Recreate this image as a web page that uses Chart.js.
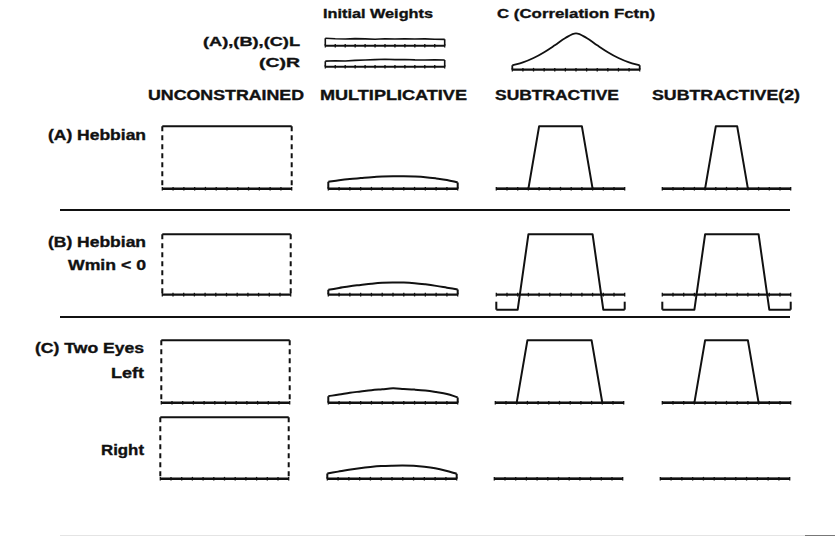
<!DOCTYPE html>
<html>
<head>
<meta charset="utf-8">
<script src="https://cdn.jsdelivr.net/npm/chart.js@4.4.0/dist/chart.umd.min.js"></script>
<style>
    body { margin: 0; background: #fff; }
    #fig { position: relative; width: 835px; height: 538px; overflow: hidden; background: #fff; }
    #fig canvas { position: absolute; }
    .lbl {
        position: absolute; white-space: nowrap; color: #111;
        font-family: "Liberation Sans", Arial, sans-serif; font-weight: bold;
        -webkit-text-stroke: 0.35px #111;
        transform-origin: 0 50%;
    }
    .rule { position: absolute; background: #111; }
</style>
</head>
<body>
<div id="fig"></div>
<script>
// synapse index along each weight profile
const synapse = [0, 1, 2, 3, 4, 5, 6, 7, 8, 9, 10, 11, 12];

// top strip: initial weights and correlation function
const initLeft  = [1.0, 0.93, 0.9, 0.95, 0.92, 0.88, 0.93, 0.9, 0.94, 0.9, 0.92, 0.88, 0.86];
const initRight = [0.75, 0.8, 0.78, 0.85, 0.9, 0.95, 1.0, 0.96, 0.97, 0.92, 0.9, 0.93, 0.9];
const corrFctn  = [0.12, 0.2, 0.32, 0.48, 0.67, 0.87, 1.0, 0.87, 0.67, 0.48, 0.32, 0.2, 0.12];

// (A) Hebbian
const aUncon = [1, 1, 1, 1, 1, 1, 1, 1, 1, 1, 1, 1, 1];
const aMult  = [0.11, 0.135, 0.155, 0.17, 0.185, 0.195, 0.2, 0.2, 0.195, 0.185, 0.165, 0.14, 0.1];
const aSub   = [0, 0, 0, 0, 1, 1, 1, 1, 1, 0, 0, 0, 0];
const aSub2  = [0, 0, 0, 0, 0, 1, 1, 1, 0, 0, 0, 0, 0];

// (B) Hebbian, Wmin < 0
const bUncon = [1, 1, 1, 1, 1, 1, 1, 1, 1, 1, 1, 1, 1];
const bMult  = [0.08, 0.11, 0.14, 0.16, 0.18, 0.195, 0.2, 0.2, 0.19, 0.17, 0.145, 0.115, 0.085];
const bSub   = [-0.25, -0.25, -0.25, 1, 1, 1, 1, 1, 1, 1, -0.25, -0.25, -0.25];
const bSub2  = [-0.25, -0.25, -0.25, -0.25, 1, 1, 1, 1, 1, 1, -0.25, -0.25, -0.25];

// (C) Two eyes, left
const clUncon = [1, 1, 1, 1, 1, 1, 1, 1, 1, 1, 1, 1, 1];
const clMult  = [0.105, 0.13, 0.16, 0.18, 0.2, 0.215, 0.23, 0.22, 0.21, 0.195, 0.17, 0.14, 0.085];
const clSub   = [0, 0, 0, 1, 1, 1, 1, 1, 1, 1, 0, 0, 0];
const clSub2  = [0, 0, 0, 0, 1, 1, 1, 1, 1, 0, 0, 0, 0];

// (C) Two eyes, right
const crUncon = [1, 1, 1, 1, 1, 1, 1, 1, 1, 1, 1, 1, 1];
const crMult  = [0.085, 0.115, 0.145, 0.17, 0.19, 0.205, 0.212, 0.215, 0.21, 0.195, 0.17, 0.13, 0.08];
const crSub   = [0, 0, 0, 0, 0, 0, 0, 0, 0, 0, 0, 0, 0];
const crSub2  = [0, 0, 0, 0, 0, 0, 0, 0, 0, 0, 0, 0, 0];

const ink = '#111';
const fig = document.getElementById('fig');

// pixel rows: where scale max / scale min land
const rows = {
    iL: {top: 38.3, bot: 46.7, min: 0, max: 1},
    iR: {top: 58.5, bot: 66.7, min: 0, max: 1},
    cf: {top: 33.3, bot: 70, min: 0, max: 1},
    A:  {top: 126, bot: 188.5, min: 0, max: 1},
    B:  {top: 233.5, bot: 309, min: -0.25, max: 1},
    CL: {top: 339.8, bot: 402.5, min: 0, max: 1},
    CR: {top: 417.3, bot: 479.5, min: 0, max: 1},
};

const dashed = [5, 4];
const stub = [8, 8];

const panels = [
    {row: 'iL', x0: 325, x1: 445, values: initLeft, lw: 1.6},
    {row: 'iR', x0: 325, x1: 445, values: initRight, lw: 1.6},
    {row: 'cf', x0: 512, x1: 640, values: corrFctn, lw: 1.8, smooth: true},

    {row: 'A', x0: 162, x1: 292, values: aUncon, dash: dashed},
    {row: 'A', x0: 328, x1: 458, values: aMult, smooth: true},
    {row: 'A', x0: 495.5, x1: 624, values: aSub},
    {row: 'A', x0: 661.5, x1: 790, values: aSub2},

    {row: 'B', x0: 162, x1: 291, values: bUncon, dash: dashed},
    {row: 'B', x0: 328, x1: 458, values: bMult, smooth: true},
    {row: 'B', x0: 495.5, x1: 624, values: bSub, dash: stub},
    {row: 'B', x0: 661.5, x1: 790, values: bSub2, dash: stub},

    {row: 'CL', x0: 161, x1: 290, values: clUncon, dash: dashed},
    {row: 'CL', x0: 327.5, x1: 457, values: clMult, smooth: true},
    {row: 'CL', x0: 494.5, x1: 623, values: clSub},
    {row: 'CL', x0: 661.5, x1: 790, values: clSub2},

    {row: 'CR', x0: 160, x1: 289, values: crUncon, dash: dashed},
    {row: 'CR', x0: 326.5, x1: 456.5, values: crMult, smooth: true},
    {row: 'CR', x0: 493.5, x1: 622.5, values: crSub},
    {row: 'CR', x0: 659.5, x1: 789, values: crSub2},
];

function makePanel(p) {
    const r = rows[p.row];
    const pad = 5;
    const lw = p.lw || 2;
    const c = document.createElement('canvas');
    c.width = Math.round(p.x1 - p.x0) + 2 * pad;
    c.height = Math.round(r.bot - r.top) + 2 * pad;
    c.style.left = Math.round(p.x0 - pad) + 'px';
    c.style.top = Math.round(r.top - pad) + 'px';
    fig.appendChild(c);

    const last = synapse.length - 1;
    const v = p.values;
    const edge = (i) => ({
        data: [{x: synapse[i], y: v[i]}, {x: synapse[i], y: 0}],
        borderColor: ink, borderWidth: lw, borderDash: p.dash || [],
        pointRadius: 0, clip: false,
    });

    new Chart(c.getContext('2d'), {
        type: 'line',
        data: {
            datasets: [
                //baseline with a small tick at every synapse
                {
                    data: synapse.map(s => ({x: s, y: 0})),
                    borderColor: ink, borderWidth: lw + 0.4,
                    pointStyle: 'line', rotation: 90, pointRadius: 1.8,
                    pointBorderWidth: 1.3, pointBorderColor: ink, clip: false,
                },
                {
                    data: synapse.map((s, i) => ({x: s, y: v[i]})),
                    borderColor: ink, borderWidth: lw, pointRadius: 0,
                    tension: p.smooth ? 0.35 : 0, borderJoinStyle: 'round',
                    clip: false,
                },
                edge(0),
                edge(last),
            ],
        },
        options: {
            responsive: false,
            animation: false,
            events: [],
            layout: {padding: pad},
            plugins: {legend: {display: false}, tooltip: {enabled: false}},
            scales: {
                x: {type: 'linear', min: 0, max: 12, display: false},
                y: {type: 'linear', min: r.min, max: r.max, display: false},
            },
        },
    });
}

panels.forEach(makePanel);

// separators between the rows
[[60, 209, 730, 2], [60, 316, 730, 2]].forEach(([x, y, w, h]) => {
    const d = document.createElement('div');
    d.className = 'rule';
    Object.assign(d.style, {left: x + 'px', top: y + 'px', width: w + 'px', height: h + 'px'});
    fig.appendChild(d);
});
//faint scan edge at the bottom
[[60, 535, 775, 1, '#e4e4e4'], [805, 534.5, 30, 1.5, '#777']].forEach(([x, y, w, h, col]) => {
    const d = document.createElement('div');
    d.className = 'rule';
    Object.assign(d.style, {left: x + 'px', top: y + 'px', width: w + 'px', height: h + 'px', background: col});
    fig.appendChild(d);
});

// text: [label, left, right, centre y, font size]
const labels = [
    ['Initial Weights', 323, 433, 14, 13.5],
    ['C (Correlation Fctn)', 497, 655, 14, 13.5],
    ['(A),(B),(C)L', 203, 300, 41.5, 13.5],
    ['(C)R', 259, 300, 62.5, 13.5],
    ['UNCONSTRAINED', 148, 304, 95.5, 14.5],
    ['MULTIPLICATIVE', 320, 467, 95.5, 14.5],
    ['SUBTRACTIVE', 495, 619, 95.5, 14.5],
    ['SUBTRACTIVE(2)', 652, 800, 95.5, 14.5],
    ['(A) Hebbian', 48, 146, 135, 14.5],
    ['(B) Hebbian', 48, 146, 242, 14.5],
    ['Wmin < 0', 68, 146, 265, 14.5],
    ['(C) Two Eyes', 35, 144, 348.5, 14.5],
    ['Left', 111, 144, 373.5, 14.5],
    ['Right', 101, 144, 450, 14.5],
];

labels.forEach(([text, x1, x2, cy, fs]) => {
    const d = document.createElement('div');
    d.className = 'lbl';
    d.textContent = text;
    d.style.fontSize = fs + 'px';
    d.style.lineHeight = fs + 'px';
    d.style.left = x1 + 'px';
    d.style.top = (cy - fs / 2) + 'px';
    fig.appendChild(d);
    const w = d.getBoundingClientRect().width;
    d.style.transform = 'scaleX(' + ((x2 - x1) / w).toFixed(3) + ')';
});
</script>
</body>
</html>
